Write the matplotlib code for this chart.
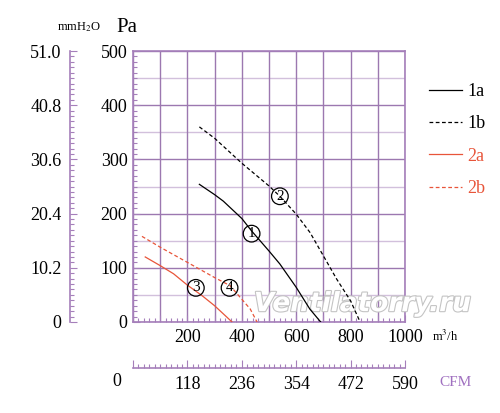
import matplotlib
matplotlib.use("Agg")
import matplotlib.pyplot as plt
import matplotlib.patheffects as pe
from matplotlib.ticker import MultipleLocator
import numpy as np

plt.rcParams['font.family'] = ['Liberation Serif', 'DejaVu Serif']
plt.rcParams['mathtext.fontset'] = 'stix'

# curve data: airflow (m3/h) vs static pressure (Pa)
q_1a = [244, 300, 332, 400, 436, 500, 540, 600, 650, 690]
p_1a = [254, 235, 223, 191, 168, 131, 107, 64, 24, 0]
q_1b = [244, 300, 400, 500, 540, 600, 651, 700, 749, 800, 835]
p_1b = [360, 339, 293, 251, 232, 199, 165, 122, 79, 39, 0]
q_2a = [45, 100, 149, 200, 253, 300, 345, 364]
p_2a = [120, 104, 89, 68, 49, 30, 9, 0]
q_2b = [33, 100, 200, 300, 357, 400, 431, 456]
p_2b = [158, 138, 110, 82, 67, 42, 24, 0]

curve_names = ['1a', '1b', '2a', '2b']
# circled curve numbers and where they sit
mark_text = ['1', '2', '3', '4']
mark_q = [436, 540, 231, 355]
mark_p = [163, 232, 63, 63]

pa_ticks = [0, 100, 200, 300, 400, 500]
mm_ticks = [0, 10.2, 20.4, 30.6, 40.8, 51.0]
mm_labels = ['0', '10.2', '20.4', '30.6', '40.8', '51.0']
q_ticks = [0, 100, 200, 300, 400, 500, 600, 700, 800, 900, 1000]
q_labels = ['', '', '200', '', '400', '', '600', '', '800', '', '1000']
cfm_ticks = [0, 118, 236, 354, 472, 590]
cfm_labels = ['', '118', '236', '354', '472', '590']

purple = '#a57fba'
grid_dark = '#9c78b0'
grid_light = '#d2c0dc'
red = '#e8553a'

W, H = 500, 413
fig = plt.figure(figsize=(5, 4.13), dpi=100)
ax = fig.add_axes([133 / W, 91 / H, 272 / W, 271 / H])
ax.set_xlim(0, 1000)
ax.set_ylim(0, 500)

# grid
for y in np.arange(50, 500, 100):
    ax.axhline(y, color=grid_light, lw=1.0, zorder=0)
ax.set_yticks(pa_ticks)
ax.set_xticks(q_ticks)
ax.set_xticklabels(q_labels)
ax.grid(True, color=grid_dark, lw=1.0, zorder=0)
ax.yaxis.set_minor_locator(MultipleLocator(10))
ax.xaxis.set_minor_locator(MultipleLocator(20))
ax.tick_params(which='both', direction='in', color=purple, labelsize=13, width=0.8)
ax.tick_params(which='major', length=5)
ax.tick_params(which='minor', length=3)
ax.tick_params(axis='y', pad=4)
ax.tick_params(axis='x', pad=5)
for s in ax.spines.values():
    s.set_color(purple)
    s.set_linewidth(1.2)
ax.set_axisbelow(True)

ax.plot(q_1a, p_1a, color='black', lw=0.9, label=curve_names[0], zorder=4)
ax.plot(q_1b, p_1b, color='black', lw=0.9, ls=(0, (3, 2)), label=curve_names[1], zorder=4)
ax.plot(q_2a, p_2a, color=red, lw=0.9, label=curve_names[2], zorder=4)
ax.plot(q_2b, p_2b, color=red, lw=0.9, ls=(0, (3, 2)), label=curve_names[3], zorder=4)

for t, x, y in zip(mark_text, mark_q, mark_p):
    ax.text(x, y, t, ha='center', va='center', fontsize=11, zorder=5,
            bbox=dict(boxstyle='circle,pad=0.12', fc='none', ec='black', lw=0.9))

ax.text(843, 33, 'Ventilatorry.ru', ha='center', va='center', fontsize=19,
        family=['Liberation Sans Narrow', 'DejaVu Sans'], weight='bold', style='italic',
        color='white', zorder=3,
        path_effects=[pe.withStroke(linewidth=1.6, foreground='#c4c4c4')])

leg = ax.legend(loc='upper left', bbox_to_anchor=(420 / W, (H - 74) / H),
                bbox_transform=fig.transFigure, frameon=False, fontsize=13,
                handlelength=1.8, handletextpad=0.3, labelspacing=0.85,
                labelcolor='linecolor', borderpad=0)

# mmH2O axis
ax_mm = fig.add_axes([70 / W, 91 / H, 0.0001, 271 / H])
ax_mm.set_ylim(0, 51.0)
ax_mm.set_yticks(mm_ticks)
ax_mm.set_yticklabels(mm_labels)
ax_mm.yaxis.set_minor_locator(MultipleLocator(1.02))
ax_mm.tick_params(which='both', direction='in', color=purple, labelsize=13, width=0.8, pad=6)
ax_mm.tick_params(which='major', length=5)
ax_mm.tick_params(which='minor', length=3)
ax_mm.set_xticks([])
for k in ['top', 'right', 'bottom']:
    ax_mm.spines[k].set_visible(False)
ax_mm.spines['left'].set_color(purple)
ax_mm.spines['left'].set_linewidth(1.2)
ax_mm.patch.set_visible(False)

# CFM axis
ax_cfm = fig.add_axes([133 / W, 45 / H, 272 / W, 0.0001])
ax_cfm.set_xlim(0, 590)
ax_cfm.set_xticks(cfm_ticks)
ax_cfm.set_xticklabels(cfm_labels)
ax_cfm.xaxis.set_minor_locator(MultipleLocator(11.8))
ax_cfm.tick_params(which='both', direction='in', color=purple, labelsize=13, width=0.8, pad=6)
ax_cfm.tick_params(which='major', length=6)
ax_cfm.tick_params(which='minor', length=3)
ax_cfm.set_yticks([])
for k in ['top', 'right', 'left']:
    ax_cfm.spines[k].set_visible(False)
ax_cfm.spines['bottom'].set_color(purple)
ax_cfm.spines['bottom'].set_linewidth(1.2)
ax_cfm.patch.set_visible(False)

# unit labels and stray zeros
fig.text(117 / W, 1 - 382 / H, '0', ha='center', va='center', fontsize=13)
fig.text(455 / W, 1 - 382 / H, 'CFM', ha='center', va='center', fontsize=11, color='#a070c0')
fig.text(445 / W, 1 - 336 / H, 'm$^3$/h', ha='center', va='center', fontsize=9)
fig.text(79 / W, 1 - 27 / H, 'mmH$_2$O', ha='center', va='center', fontsize=9)
fig.text(127 / W, 1 - 27 / H, 'Pa', ha='center', va='center', fontsize=15)

fig.savefig('out.png', dpi=100)
